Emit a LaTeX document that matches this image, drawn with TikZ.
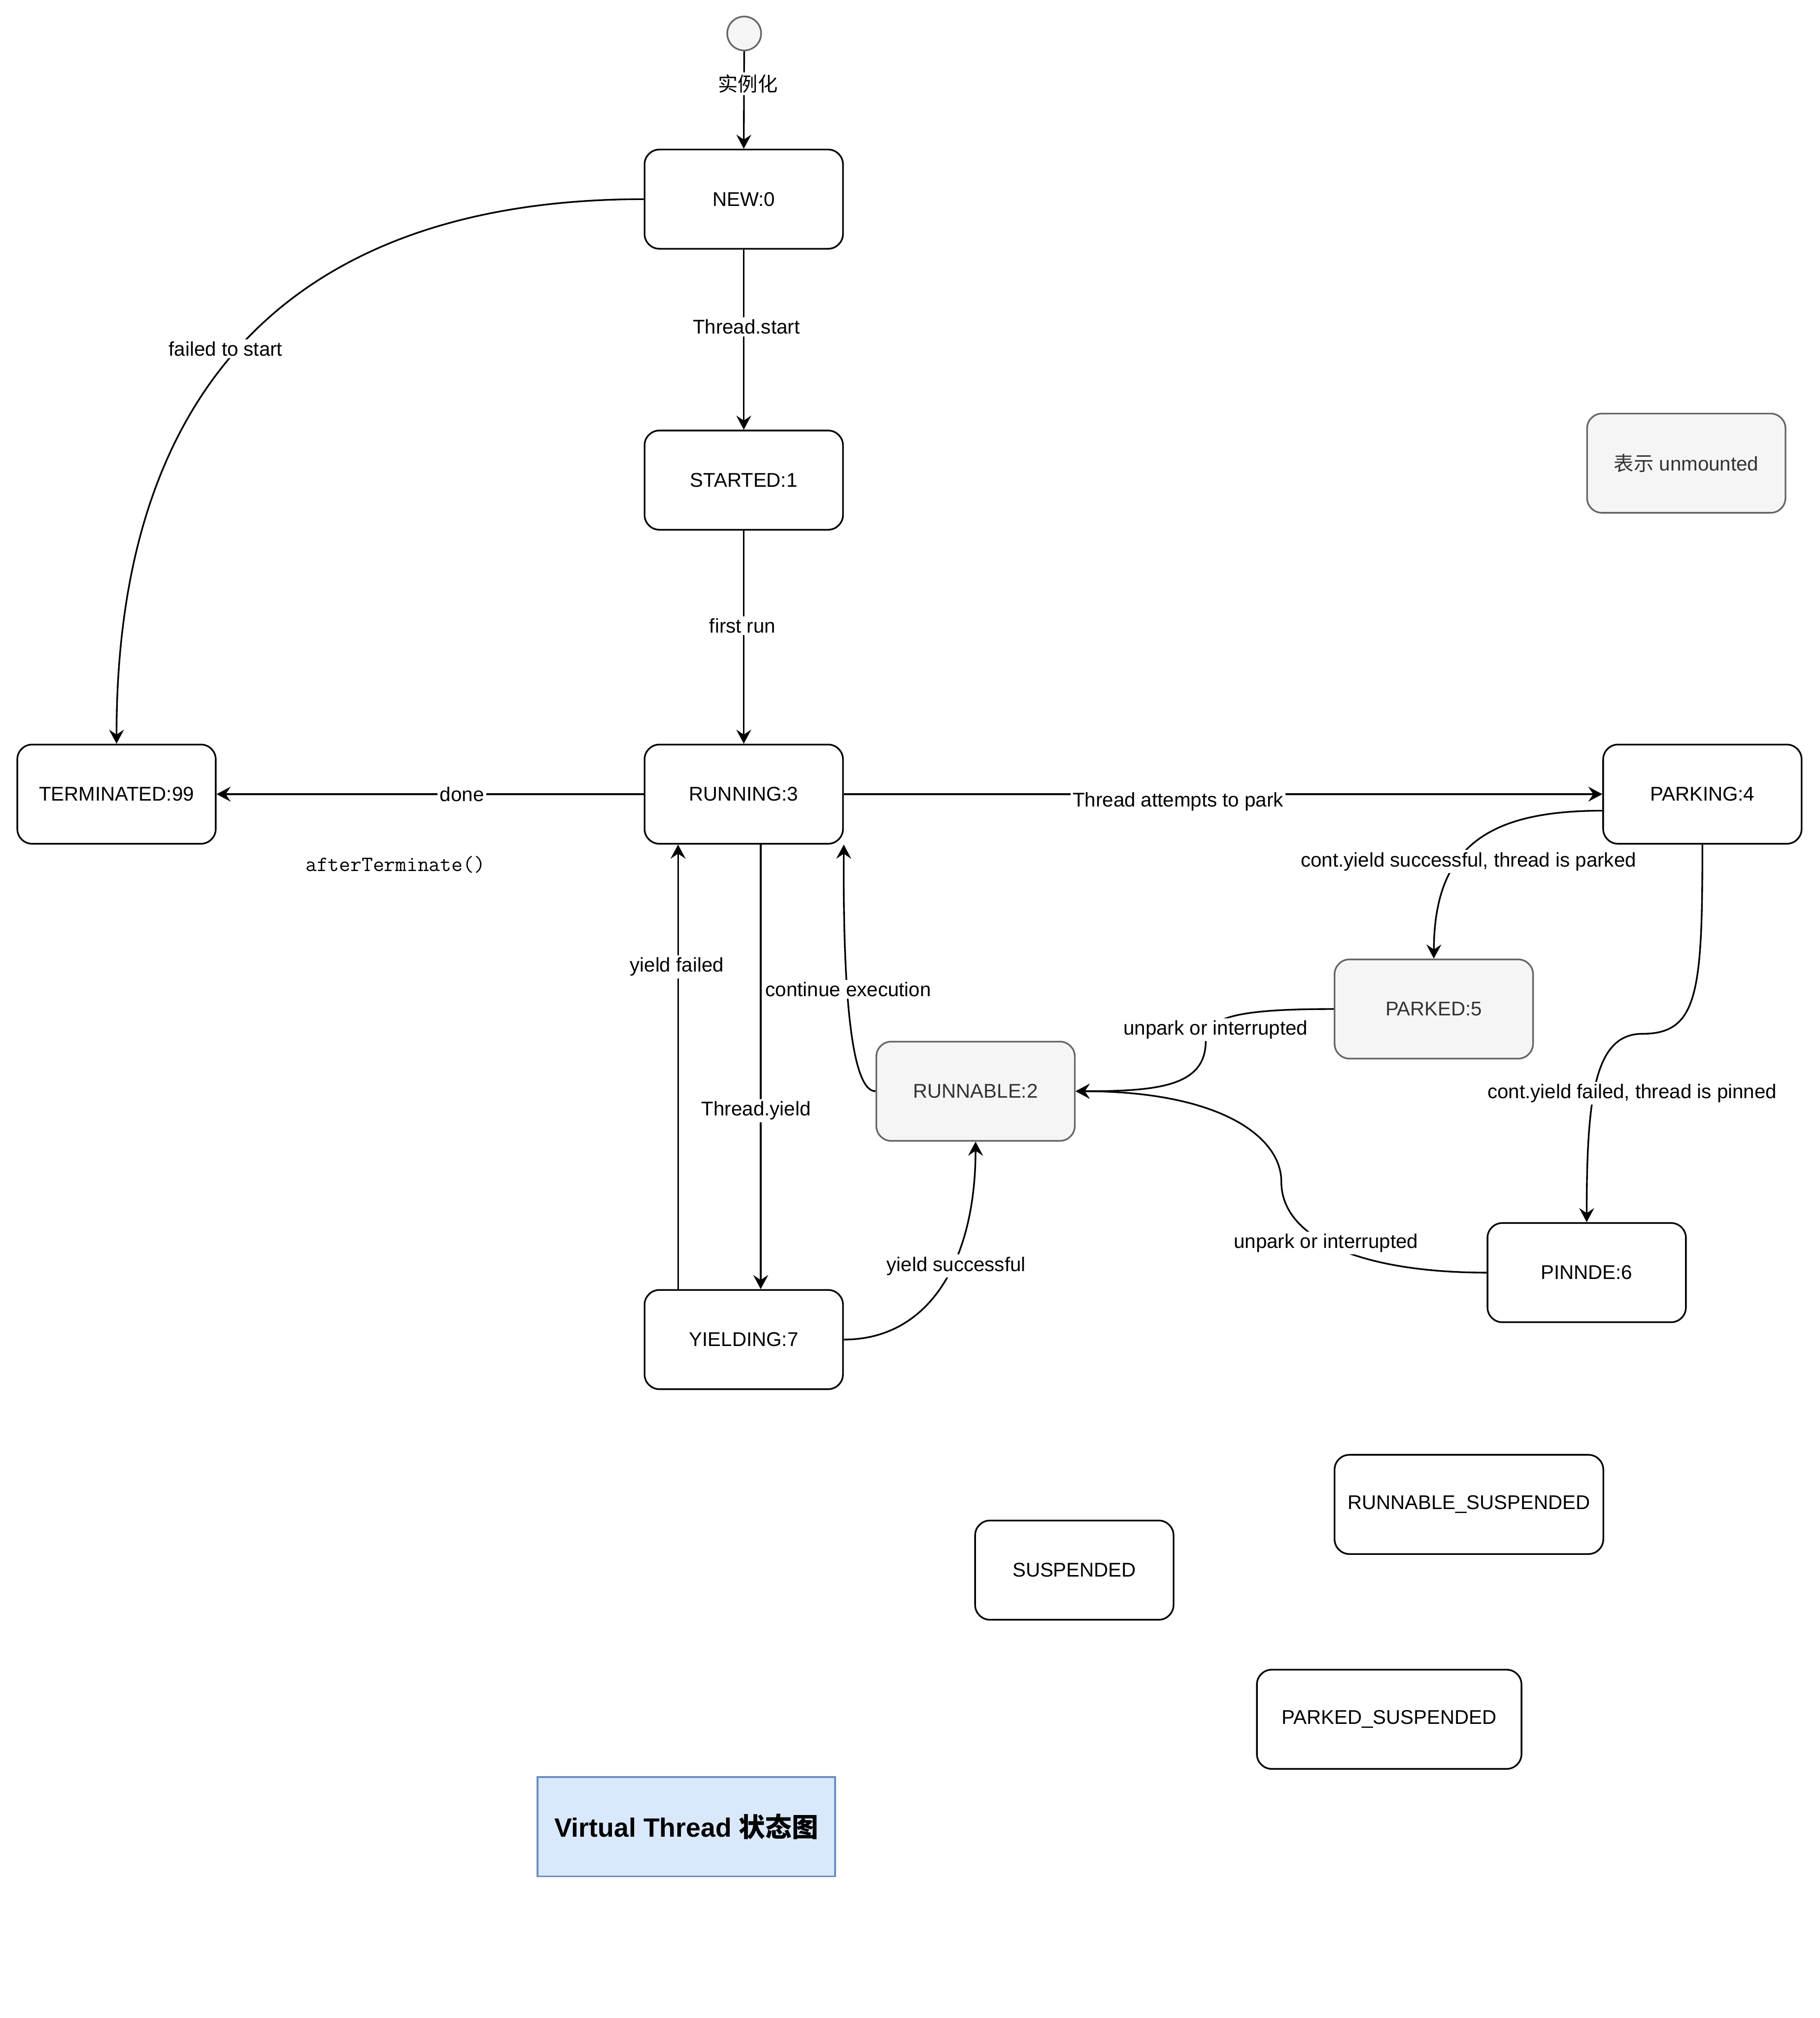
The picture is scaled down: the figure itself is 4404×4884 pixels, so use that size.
\documentclass[tikz,border=0pt]{standalone}
\usepackage{fontspec}
\setmainfont{Liberation Sans}
\newfontfamily\cjk{Noto Sans CJK SC}
\usetikzlibrary{arrows.meta,calc}
\definecolor{grayLine}{HTML}{666666}
\definecolor{grayFill}{HTML}{F5F5F5}
\definecolor{grayText}{HTML}{333333}
\definecolor{titleFill}{HTML}{DAE8FC}
\definecolor{titleLine}{HTML}{6C8EBF}
\begin{document}
\begin{tikzpicture}[x=0.01cm,y=-0.01cm,
  every node/.style={font=\fontsize{13.66pt}{16pt}\selectfont},
  state/.style={draw, line width=1.14pt, rounded corners=0.36cm, minimum width=4.8cm, minimum height=2.4cm, inner sep=0pt, fill=white},
  unmounted/.style={state, draw=grayLine, fill=grayFill, text=grayText},
  widestate/.style={state, minimum width=6.4cm},
  lbl/.style={fill=white, inner sep=1.5pt},
  conn/.style={line width=1.14pt, -{Stealth[length=0.34cm,width=0.36cm,inset=0.12cm]}},
]
\useasboundingbox (0,0) rectangle (4404,4884);

% start
\node[circle, draw=grayLine, fill=grayFill, line width=1.14pt, minimum size=0.82cm, inner sep=0pt] (start) at (1801,81) {};

% states
\node[state] (new) at (1800,482) {NEW:0};
\node[state] (started) at (1800,1162) {STARTED:1};
\node[state] (running) at (1800,1922) {RUNNING:3};
\node[state] (terminated) at (282,1922) {TERMINATED:99};
\node[state] (parking) at (4120,1922) {PARKING:4};
\node[unmounted] (parked) at (3470,2442) {PARKED:5};
\node[unmounted] (runnable) at (2361,2641) {RUNNABLE:2};
\node[state] (pinned) at (3840,3080) {PINNDE:6};
\node[state] (yielding) at (1800,3242) {YIELDING:7};
\node[unmounted] (legend) at (4081,1121) {{\cjk 表示} unmounted};
\node[widestate, minimum width=6.5cm] (rsusp) at (3555,3641) {RUNNABLE\_SUSPENDED};
\node[state] (susp) at (2600,3800) {SUSPENDED};
\node[widestate] (psusp) at (3362,4161) {PARKED\_SUSPENDED};
\node[draw=titleLine, fill=titleFill, line width=1.14pt, minimum width=7.2cm, minimum height=2.4cm, font=\fontsize{18.2pt}{22pt}\selectfont\bfseries] (title) at (1661,4421) {Virtual Thread {\cjk 状态图}};

% connectors
\draw[conn] (start.south) -- (new.north);
\draw[conn] (new.south) -- (started.north);
\draw[conn] (started.south) -- (running.north);
\draw[conn] (new.west) .. controls (800,482) and (282,850) .. (terminated.north);
\draw[conn] (running.west) -- (terminated.east);
\draw[conn] (running.east) -- (parking.west);
\draw[conn] ($(parking.west)+(0,40)$) .. controls (3600,1962) and (3471,2050) .. (parked.north);
\draw[conn] (parking.south) .. controls (4120,2400) and (4110,2502) .. (3975,2502) .. controls (3860,2502) and (3840,2650) .. (pinned.north);
\draw[conn] (parked.west) .. controls (3000,2442) and (2918,2460) .. (2918,2520) .. controls (2918,2630) and (2800,2641) .. (runnable.east);
\draw[conn] (pinned.west) .. controls (3300,3080) and (3101,3000) .. (3101,2860) .. controls (3101,2750) and (2950,2641) .. (runnable.east);
\draw[conn] (runnable.west) .. controls (2060,2641) and (2040,2400) .. (running.south east);
\draw[conn] ($(running.south)+(41,0)$) -- ($(yielding.north)+(41,0)$);
\draw[conn] ($(yielding.north)+(-159,0)$) -- ($(running.south)+(-159,0)$);
\draw[conn] (yielding.east) .. controls (2250,3242) and (2361,3050) .. (runnable.south);

% labels
\node[lbl] (l0) at (1810,203) {\cjk 实例化};
\node[lbl] (l1) at (1806,791) {Thread.start};
\node[lbl] (l2) at (1797,1514) {first run};
\node[lbl] (l3) at (546,844) {failed to start};
\node[lbl] (l4) at (1118,1922) {done};
\node[lbl] (l5) at (2851,1940) {Thread attempts to park};
\node[lbl] (l6) at (3554,2085) {cont.yield successful, thread is parked};
\node[lbl] (l7) at (3950,2646) {cont.yield failed, thread is pinned};
\node[lbl] (l8) at (2942,2492) {unpark or interrupted};
\node[lbl] (l9) at (3209,3008) {unpark or interrupted};
\node[lbl] (l10) at (2053,2394) {continue execution};
\node[lbl] (l11) at (1830,2688) {Thread.yield};
\node[lbl] (l12) at (1638,2340) {yield failed};
\node[lbl] (l13) at (2314,3064) {yield successful};
\node (afterT) at (957,2093) {\ttfamily\fontsize{15pt}{17pt}\selectfont afterTerminate()};
\end{tikzpicture}
\end{document}
